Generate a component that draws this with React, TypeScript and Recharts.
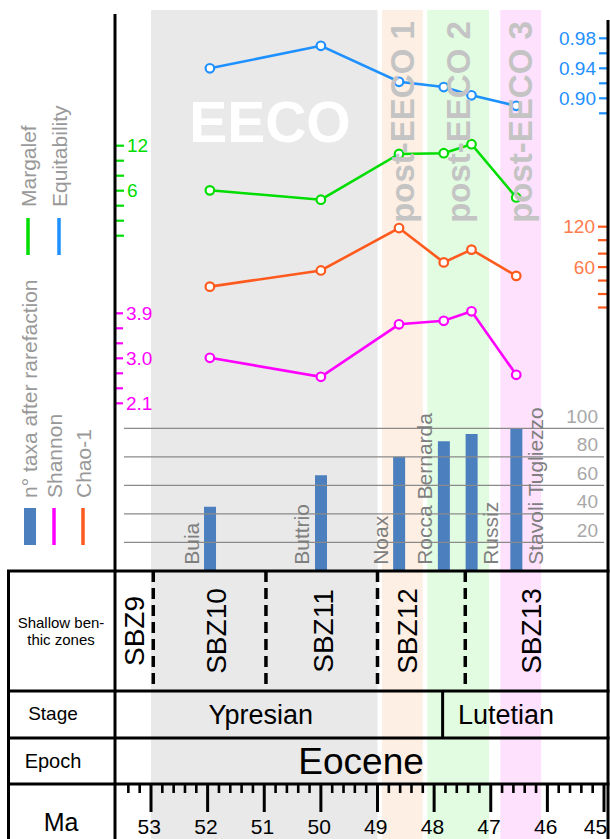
import React from "react";
import {
  ComposedChart, Line, Bar, XAxis, YAxis, ReferenceArea, ReferenceLine, LabelList,
} from "recharts";

const FONT = '"Liberation Sans", Arial, Helvetica, sans-serif';

// samples, ages in Ma
const sites = ["Buia", "Buttrio", "Noax", "Rocca Bernarda", "Russiz", "Stavoli Tugliezzo"];
const siteAge = [51.96, 50.0, 48.62, 47.83, 47.34, 46.55];
const taxaAfterRarefaction = [45, 67, 80, 91, 96, 100];
const shannon = [3.01, 2.63, 3.68, 3.75, 3.94, 2.67];
const chao1 = [31, 55, 118, 67, 86, 47];
const margalef = [6.05, 4.8, 10.9, 11.0, 12.2, 5.1];
const equitability = [0.94, 0.97, 0.922, 0.915, 0.904, 0.89];
const sitesLabelledRight = ["Russiz", "Stavoli Tugliezzo"];

// climate intervals
const bandNames = ["EECO", "post-EECO 1", "post-EECO 2", "post-EECO 3"];
const bandStart = [53, 48.92, 48.12, 46.83];
const bandEnd = [49, 48.2, 47.03, 46.11];
const bandFill = ["#e9e9e9", "#fdefe3", "#e1fce1", "#fde1fd"];

// stratigraphy
const sbzNames = ["SBZ9", "SBZ10", "SBZ11", "SBZ12", "SBZ13"];
const sbzLabelAge = [53.3, 51.85, 49.96, 48.48, 46.29];
const sbzBounds = [52.96, 50.97, 49.0, 47.45];
const stageNames = ["Ypresian", "Lutetian"];
const stageLabelAge = [51.06, 46.73];
const stageBound = 47.85;
const epochName = "Eocene";
const epochLabelAge = 49.29;
const maMajor = [53, 52, 51, 50, 49, 48, 47, 46, 45];
const maMinor = [53.4, 53.2].concat(
  maMajor.slice(0, -1).flatMap((m) => [m - 0.2, m - 0.4, m - 0.6, m - 0.8])
);

// axis ticks
const margalefTicks = [0, 2, 4, 6, 8, 10, 12];
const margalefLabels = [6, 12];
const shannonTicks = [2.1, 2.4, 2.7, 3.0, 3.3, 3.6, 3.9];
const shannonLabels = [2.1, 3.0, 3.9];
const equitTicks = [0.88, 0.9, 0.92, 0.94, 0.96, 0.98];
const equitLabels = [0.9, 0.94, 0.98];
const chaoTicks = [0, 20, 40, 60, 80, 100, 120];
const chaoLabels = [60, 120];
const taxaTicks = [20, 40, 60, 80, 100];

// layout (pixels)
const W = 610;
const H = 839;
const TOP = 10;
const LEFT = 115;
const RIGHT = 607; // plot edge; three 1px right axes sit beyond it
const FRAME_R = 608;
const ROW_SBZ = 571;
const ROW_STAGE = 691;
const ROW_EPOCH = 738;
const ROW_MA = 784;
const maAt = (px: number) => 53 - (px - 151) / 56.625;
const xDomain = [maAt(RIGHT), maAt(LEFT)];

// each series has its own vertical strip: fit the axis domain to two pixel anchors
function fitDomain(v1: number, y1: number, v2: number, y2: number) {
  const k = (y1 - y2) / (v2 - v1);
  return [v1 - (H - y1) / k, v1 + (y1 - TOP) / k];
}
const margDomain = fitDomain(0, 235.7, 12, 145.7);
const shanDomain = fitDomain(2.1, 403.3, 3.9, 313.3);
const equitDomain = fitDomain(0.88, 113.3, 0.98, 38.3);
const chaoDomain = fitDomain(0, 307.5, 120, 226.7);
const taxaDomain = fitDomain(0, 570.8, 100, 428.3);

const rows = sites.map((site, i) => ({
  site,
  ma: siteAge[i],
  taxa: taxaAfterRarefaction[i],
  shannon: shannon[i],
  chao: chao1[i],
  margalef: margalef[i],
  equit: equitability[i],
}));

const COL = {
  equit: "#1e90ff",
  marg: "#00dd00",
  chao: "#ff5a1e",
  chaoText: "#ff7c4c",
  shan: "#ff00ff",
  bar: "#4b7fbe",
  legend: "#999999",
  site: "#7f7f7f",
  band: "#c4c4c4",
};

function sideTick(side: "left" | "right", color: string, textColor: string, labels: number[], digits: number) {
  return (p: any) => {
    const v = p.payload.value;
    const dir = side === "left" ? 1 : -1;
    const show = labels.some((l) => Math.abs(l - v) < 1e-6);
    return (
      <g>
        <line x1={p.x} x2={p.x + dir * 9} y1={p.y} y2={p.y} stroke={color} strokeWidth={2.2} />
        {show && (
          <text x={p.x + dir * 12} y={p.y} textAnchor={side === "left" ? "start" : "end"}
            dominantBaseline="central" fill={textColor} fontSize={19} fontFamily={FONT}>
            {v.toFixed(digits)}
          </text>
        )}
      </g>
    );
  };
}

const taxaTick = (p: any) => (
  <text x={p.x - 11} y={p.y - 12} textAnchor="end" dominantBaseline="central"
    fill="#a8a8a8" fontSize={19} fontFamily={FONT}>
    {p.payload.value}
  </text>
);

const SiteLabel = (props: any) => {
  const vb = props.viewBox ?? props;
  const name = String(props.value);
  const side = sitesLabelledRight.includes(name) ? 1 : -1;
  const cx = vb.x + vb.width / 2 + side * 19;
  const by = vb.y + vb.height - 6;
  return (
    <text x={cx} y={by} transform={`rotate(-90 ${cx} ${by})`} dominantBaseline="central"
      fontSize={21} fill={COL.site} fontFamily={FONT}>
      {name}
    </text>
  );
};

const dot = (c: string) => ({ r: 4.3, fill: "#fff", stroke: c, strokeWidth: 2.2 });

function Overlay() {
  const line = { stroke: "#000", strokeWidth: 3 };
  const rot = (x: number, y: number) => `rotate(-90 ${x} ${y})`;
  const lg = { fill: COL.legend, fontSize: 21, fontFamily: FONT, dominantBaseline: "central" as const };
  const hd = { fill: "#000", fontFamily: FONT, textAnchor: "middle" as const, dominantBaseline: "central" as const };
  return (
    <svg width={W} height={H} style={{ position: "absolute", left: 0, top: 0, pointerEvents: "none" }}>
      {/* frame */}
      <line x1={LEFT} x2={LEFT} y1={14} y2={H} {...line} />
      <line x1={FRAME_R} x2={FRAME_R} y1={20} y2={H} {...line} />
      <line x1={8.5} x2={8.5} y1={ROW_SBZ} y2={H} {...line} />
      {[ROW_SBZ, ROW_STAGE, ROW_EPOCH, ROW_MA].map((y) => (
        <line key={y} x1={7} x2={609.5} y1={y} y2={y} {...line} />
      ))}

      {/* legend */}
      <text x={28} y={207} transform={rot(28, 207)} {...lg}>Margalef</text>
      <text x={59} y={207} transform={rot(59, 207)} {...lg}>Equitability</text>
      <line x1={28} x2={28} y1={218} y2={255} stroke={COL.marg} strokeWidth={3.5} />
      <line x1={59} x2={59} y1={218} y2={255} stroke={COL.equit} strokeWidth={3.5} />
      <text x={29} y={498} transform={rot(29, 498)} {...lg}>n° taxa after rarefaction</text>
      <text x={54} y={498} transform={rot(54, 498)} {...lg}>Shannon</text>
      <text x={83} y={498} transform={rot(83, 498)} {...lg}>Chao-1</text>
      <rect x={24} y={508} width={12} height={37} fill={COL.bar} />
      <line x1={54} x2={54} y1={508} y2={545} stroke={COL.shan} strokeWidth={3.5} />
      <line x1={83} x2={83} y1={508} y2={545} stroke={COL.chao} strokeWidth={3.5} />

      {/* row headers */}
      <text x={61} y={622} fontSize={15} {...hd}>Shallow ben-</text>
      <text x={61} y={639} fontSize={15} {...hd}>thic zones</text>
      <text x={53} y={713} fontSize={19} {...hd}>Stage</text>
      <text x={53} y={761} fontSize={20} {...hd}>Epoch</text>
      <text x={61} y={822} fontSize={25} {...hd}>Ma</text>
    </svg>
  );
}

export default function App() {
  const common = { ifOverflow: "visible" as const, yAxisId: "px" };
  const gridLeft = maAt(124);
  const gridRight = maAt(604);
  const axisProps = {
    width: 1, type: "number" as const, allowDataOverflow: true, interval: 0 as const,
    axisLine: false, tickLine: false, tickSize: 0, tickMargin: 0,
  };
  return (
    <div style={{ position: "absolute", left: 0, top: 0, width: W, height: H, background: "#fff", fontFamily: FONT }}>
      <ComposedChart width={W} height={H} data={rows} margin={{ top: TOP, right: 0, bottom: 0, left: LEFT - 2 }}>
        <XAxis type="number" dataKey="ma" domain={xDomain} reversed hide allowDataOverflow />
        <YAxis yAxisId="px" hide width={0} type="number" domain={[TOP, H]} reversed allowDataOverflow />
        <YAxis yAxisId="marg" orientation="left" {...axisProps} domain={margDomain}
          ticks={margalefTicks} tick={sideTick("left", COL.marg, COL.marg, margalefLabels, 0)} />
        <YAxis yAxisId="shan" orientation="left" {...axisProps} domain={shanDomain}
          ticks={shannonTicks} tick={sideTick("left", COL.shan, COL.shan, shannonLabels, 1)} />
        <YAxis yAxisId="equit" orientation="right" {...axisProps} domain={equitDomain}
          ticks={equitTicks} tick={sideTick("right", COL.equit, COL.equit, equitLabels, 2)} />
        <YAxis yAxisId="chao" orientation="right" {...axisProps} domain={chaoDomain}
          ticks={chaoTicks} tick={sideTick("right", COL.chao, COL.chaoText, chaoLabels, 0)} />
        <YAxis yAxisId="taxa" orientation="right" {...axisProps} domain={taxaDomain}
          ticks={taxaTicks} tick={taxaTick} />

        {/* climate bands */}
        {bandNames.map((n, i) => (
          <ReferenceArea key={n} {...common} x1={bandStart[i]} x2={bandEnd[i]} y1={TOP} y2={H}
            fill={bandFill[i]} fillOpacity={1} stroke="none" />
        ))}
        <ReferenceArea {...common} x1={bandStart[0] - 0.1} x2={bandEnd[0] - 0.1} y1={100} y2={143} fill="none" stroke="none"
          label={{ value: bandNames[0], position: "center", fill: "#fff", fontSize: 57, fontWeight: "bold", fontFamily: FONT }} />
        {bandNames.slice(1).map((n, i) => (
          <ReferenceArea key={n + "-label"} {...common} x1={bandStart[i + 1]} x2={bandEnd[i + 1]} y1={18} y2={226}
            fill="none" stroke="none"
            label={{ value: n, position: "center", angle: -90, fill: COL.band, fontSize: 33, fontWeight: "bold", fontFamily: FONT }} />
        ))}

        {/* taxa grid */}
        {taxaTicks.map((t) => (
          <ReferenceLine key={"g" + t} yAxisId="taxa" ifOverflow="visible"
            segment={[{ x: gridLeft, y: t }, { x: gridRight, y: t }]} stroke="#8a8a8a" strokeWidth={1.2} />
        ))}

        {/* shallow benthic zones */}
        {sbzBounds.map((b) => (
          <ReferenceLine key={"sbz" + b} {...common} segment={[{ x: b, y: ROW_SBZ }, { x: b, y: ROW_STAGE }]}
            stroke="#000" strokeWidth={3.5} strokeDasharray="11 6" />
        ))}
        {sbzNames.map((n, i) => (
          <ReferenceArea key={n} {...common} x1={sbzLabelAge[i] + 0.1} x2={sbzLabelAge[i] - 0.1}
            y1={ROW_SBZ} y2={ROW_STAGE} fill="none" stroke="none"
            label={{ value: n, position: "center", angle: -90, fill: "#000", fontSize: 28, fontFamily: FONT }} />
        ))}

        {/* stages and epoch */}
        <ReferenceLine {...common} segment={[{ x: stageBound, y: ROW_STAGE }, { x: stageBound, y: ROW_EPOCH }]}
          stroke="#000" strokeWidth={3} />
        {stageNames.map((n, i) => (
          <ReferenceArea key={n} {...common} x1={stageLabelAge[i] + 0.5} x2={stageLabelAge[i] - 0.5}
            y1={ROW_STAGE} y2={ROW_EPOCH} fill="none" stroke="none"
            label={{ value: n, position: "center", fill: "#000", fontSize: 27, fontFamily: FONT }} />
        ))}
        <ReferenceArea {...common} x1={epochLabelAge + 0.5} x2={epochLabelAge - 0.5}
          y1={ROW_EPOCH} y2={ROW_MA} fill="none" stroke="none"
          label={{ value: epochName, position: "center", fill: "#000", fontSize: 37, fontFamily: FONT }} />

        {/* Ma scale */}
        {maMinor.map((t) => (
          <ReferenceLine key={"mi" + t.toFixed(1)} {...common} segment={[{ x: t, y: ROW_MA }, { x: t, y: 793 }]}
            stroke="#000" strokeWidth={2.6} />
        ))}
        {maMajor.map((t) => (
          <ReferenceLine key={"ma" + t} {...common} segment={[{ x: t, y: ROW_MA }, { x: t, y: 812 }]}
            stroke="#000" strokeWidth={3} />
        ))}
        {maMajor.map((t, i) => {
          const c = i === maMajor.length - 1 ? t + 0.15 : t + 0.03;
          return (
            <ReferenceArea key={"mal" + t} {...common} x1={c + 0.25} x2={c - 0.25} y1={817} y2={837}
              fill="none" stroke="none"
              label={{ value: String(t), position: "center", fill: "#000", fontSize: 21, fontFamily: FONT }} />
          );
        })}

        {/* data */}
        <Bar yAxisId="taxa" dataKey="taxa" barSize={12} fill={COL.bar} isAnimationActive={false}>
          <LabelList dataKey="site" content={SiteLabel} />
        </Bar>
        <Line yAxisId="shan" dataKey="shannon" stroke={COL.shan} strokeWidth={2.6} dot={dot(COL.shan)} isAnimationActive={false} />
        <Line yAxisId="chao" dataKey="chao" stroke={COL.chao} strokeWidth={2.6} dot={dot(COL.chao)} isAnimationActive={false} />
        <Line yAxisId="marg" dataKey="margalef" stroke={COL.marg} strokeWidth={2.6} dot={dot(COL.marg)} isAnimationActive={false} />
        <Line yAxisId="equit" dataKey="equit" stroke={COL.equit} strokeWidth={2.6} dot={dot(COL.equit)} isAnimationActive={false} />
      </ComposedChart>
      <Overlay />
    </div>
  );
}
